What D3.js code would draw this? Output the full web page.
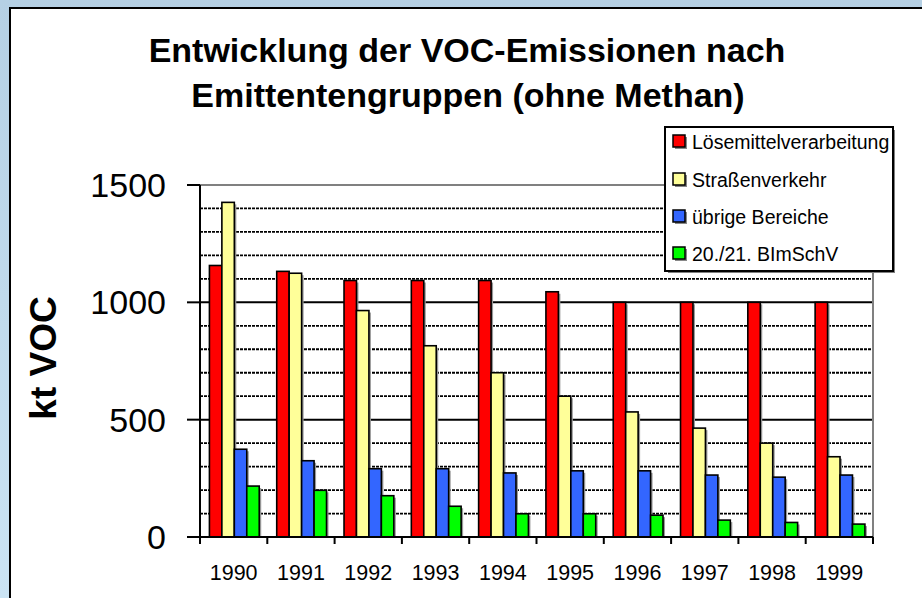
<!DOCTYPE html>
<html>
<head>
<meta charset="utf-8">
<script src="https://cdn.jsdelivr.net/npm/d3@7"></script>
<style>
  body { margin: 0; padding: 0; background: #fff; }
  svg { display: block; font-family: "Liberation Sans", Arial, sans-serif; }
</style>
</head>
<body>
<div id="chart"></div>
<script>
// Daten
const years = ["1990", "1991", "1992", "1993", "1994", "1995", "1996", "1997", "1998", "1999"];
const seriesNames = ["Lösemittelverarbeitung", "Straßenverkehr", "übrige Bereiche", "20./21. BImSchV"];
const loesemittel = [1157, 1132, 1093, 1093, 1093, 1045, 1000, 1000, 1000, 1000];
const verkehr = [1426, 1124, 965, 815, 700, 600, 533, 464, 400, 342];
const uebrige = [374, 325, 291, 291, 273, 282, 282, 264, 255, 264];
const bimschv = [217, 199, 176, 131, 99, 99, 93, 72, 62, 55];
const yTicks = [0, 500, 1000, 1500];
const colors = ["#ff0000", "#ffff99", "#3366ff", "#00ff00"];

const W = 922, H = 598;
const plot = {left: 200, right: 873, top: 185, bottom: 537};

const svg = d3.select("#chart").append("svg")
  .attr("width", W).attr("height", H);

// Hintergrund (blauer Rahmen + weisses Feld)
const defs = svg.append("defs");
const grad = defs.append("linearGradient").attr("id", "bg")
  .attr("x1", 0).attr("y1", 0).attr("x2", 0).attr("y2", 1);
grad.append("stop").attr("offset", "0%").attr("stop-color", "#b5d0e4");
grad.append("stop").attr("offset", "100%").attr("stop-color", "#cbe4f4");
svg.append("rect").attr("width", W).attr("height", H).attr("fill", "url(#bg)");
svg.append("rect").attr("x", 10).attr("y", 8).attr("width", W).attr("height", H)
  .attr("fill", "#fff").attr("stroke", "#000").attr("stroke-width", 2);

// Titel
svg.append("text").attr("x", 467).attr("y", 62)
  .attr("text-anchor", "middle").attr("font-size", 34).attr("font-weight", "bold")
  .text("Entwicklung der VOC-Emissionen nach");
svg.append("text").attr("x", 468).attr("y", 107)
  .attr("text-anchor", "middle").attr("font-size", 34).attr("font-weight", "bold")
  .text("Emittentengruppen (ohne Methan)");

// Skalen
const x0 = d3.scaleBand().domain(years).range([plot.left, plot.right]);
const y = d3.scaleLinear().domain([0, 1500]).range([plot.bottom, plot.top]);
const bw = x0.bandwidth() * 0.185;
const off = x0.bandwidth() * 0.14;

// Gitternetz
const g = svg.append("g");
d3.range(100, 1500, 100).forEach(v => {
  const major = v % 500 === 0;
  g.append("line")
    .attr("x1", plot.left).attr("x2", plot.right)
    .attr("y1", y(v)).attr("y2", y(v))
    .attr("stroke", "#000").attr("stroke-width", major ? 2 : 1.8)
    .attr("stroke-dasharray", major ? null : "3,1");
});
// Rahmen oben + rechts (grau)
g.append("line").attr("x1", plot.left).attr("x2", plot.right)
  .attr("y1", y(1500)).attr("y2", y(1500)).attr("stroke", "#808080").attr("stroke-width", 2);
g.append("line").attr("x1", plot.right).attr("x2", plot.right)
  .attr("y1", y(1500)).attr("y2", y(0)).attr("stroke", "#808080").attr("stroke-width", 2);

// Balken
const allSeries = [loesemittel, verkehr, uebrige, bimschv];
allSeries.forEach((vals, si) => {
  const gs = svg.append("g");
  // Schatten
  gs.selectAll("rect.sh").data(vals).enter().append("rect")
    .attr("class", "sh")
    .attr("x", (d, i) => x0(years[i]) + off + si * bw + 2)
    .attr("y", d => y(d) + 2)
    .attr("width", bw).attr("height", d => y(0) - y(d) - 2)
    .attr("fill", "#999");
  gs.selectAll("rect.bar").data(vals).enter().append("rect")
    .attr("class", "bar")
    .attr("x", (d, i) => x0(years[i]) + off + si * bw)
    .attr("y", d => y(d))
    .attr("width", bw).attr("height", d => y(0) - y(d))
    .attr("fill", colors[si]).attr("stroke", "#000").attr("stroke-width", 1.6);
});

// Y-Achse
const ya = svg.append("g");
ya.append("line").attr("x1", plot.left).attr("x2", plot.left)
  .attr("y1", plot.top).attr("y2", plot.bottom).attr("stroke", "#000").attr("stroke-width", 2);
yTicks.forEach(v => {
  ya.append("line").attr("x1", plot.left - 13).attr("x2", plot.left)
    .attr("y1", y(v)).attr("y2", y(v)).attr("stroke", "#000").attr("stroke-width", 2);
  ya.append("text").attr("x", 166).attr("y", y(v) + 12)
    .attr("text-anchor", "end").attr("font-size", 34).text(v);
});
svg.append("text")
  .attr("transform", "translate(56,358) rotate(-90)")
  .attr("text-anchor", "middle").attr("font-size", 37).attr("font-weight", "bold")
  .text("kt VOC");

// X-Achse
const xa = svg.append("g");
xa.append("line").attr("x1", plot.left - 13).attr("x2", plot.right)
  .attr("y1", plot.bottom).attr("y2", plot.bottom).attr("stroke", "#000").attr("stroke-width", 2);
years.concat(["end"]).forEach((yr, i) => {
  const xx = i < years.length ? x0(yr) : plot.right;
  xa.append("line").attr("x1", xx).attr("x2", xx)
    .attr("y1", plot.bottom).attr("y2", plot.bottom + 7).attr("stroke", "#000").attr("stroke-width", 2);
});
years.forEach(yr => {
  xa.append("text").attr("x", x0(yr) + x0.bandwidth() / 2).attr("y", 580)
    .attr("text-anchor", "middle").attr("font-size", 21.5).text(yr);
});

// Legende
const lg = svg.append("g");
lg.append("rect").attr("x", 668).attr("y", 130).attr("width", 227).attr("height", 143).attr("fill", "#808080");
lg.append("rect").attr("x", 665).attr("y", 127).attr("width", 228).attr("height", 144)
  .attr("fill", "#fff").attr("stroke", "#000").attr("stroke-width", 2);
const ly = [142, 180, 217, 254];
seriesNames.forEach((n, i) => {
  lg.append("rect").attr("x", 675).attr("y", ly[i] - 5).attr("width", 12).attr("height", 12).attr("fill", "#888");
  lg.append("rect").attr("x", 673).attr("y", ly[i] - 7).attr("width", 12).attr("height", 12)
    .attr("fill", colors[i]).attr("stroke", "#000").attr("stroke-width", 1.5);
  lg.append("text").attr("x", 692).attr("y", ly[i] + 7)
    .attr("font-size", 19.5).text(n);
});
</script>
</body>
</html>
